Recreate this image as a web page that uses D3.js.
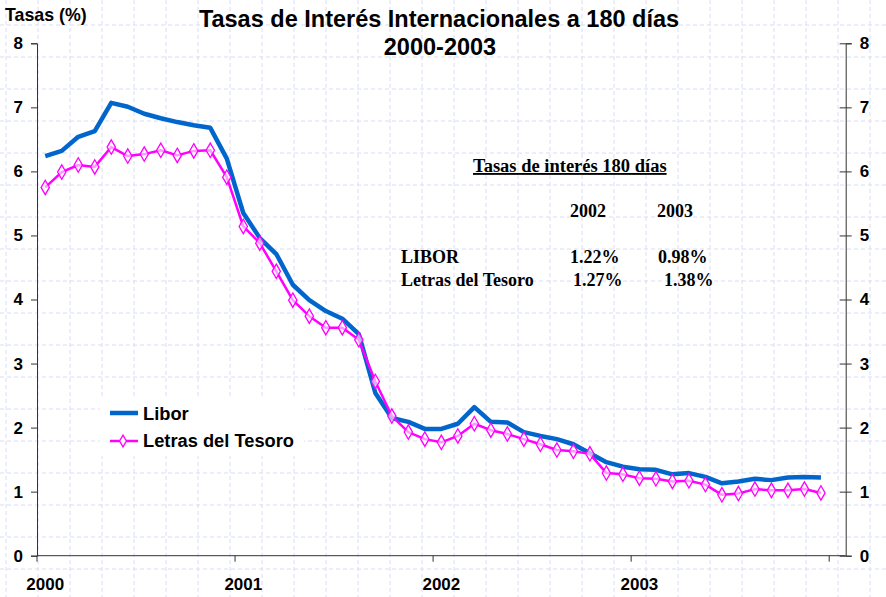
<!DOCTYPE html>
<html>
<head>
<meta charset="utf-8">
<script src="https://cdn.jsdelivr.net/npm/d3@7"></script>
<style>
html,body{margin:0;padding:0;background:#fff;}
svg{display:block;}
</style>
</head>
<body>
<svg id="chart" width="886" height="597" font-family="Liberation Sans, Arial, sans-serif"></svg>
<script>
// ---- Data ----
const years = ["2000", "2001", "2002", "2003"];
const monthsPerYear = 12;
const libor = [6.24, 6.32, 6.54, 6.63, 7.07, 7.01, 6.90, 6.83, 6.77, 6.72, 6.68, 6.20,
               5.35, 4.96, 4.71, 4.23, 3.99, 3.82, 3.70, 3.46, 2.54, 2.15, 2.09, 1.98,
               1.98, 2.06, 2.32, 2.09, 2.08, 1.93, 1.87, 1.82, 1.74, 1.60, 1.46, 1.39,
               1.35, 1.34, 1.27, 1.29, 1.23, 1.13, 1.16, 1.20, 1.18, 1.22, 1.23, 1.22];
const letras = [5.75, 5.99, 6.10, 6.07, 6.38, 6.24, 6.27, 6.33, 6.25, 6.32, 6.33, 5.91,
                5.14, 4.88, 4.44, 3.99, 3.74, 3.56, 3.56, 3.37, 2.72, 2.18, 1.93, 1.82,
                1.77, 1.87, 2.06, 1.96, 1.90, 1.82, 1.74, 1.65, 1.63, 1.59, 1.29, 1.27,
                1.21, 1.20, 1.16, 1.17, 1.11, 0.95, 0.97, 1.04, 1.02, 1.02, 1.04, 0.98];
const yTicks = [0, 1, 2, 3, 4, 5, 6, 7, 8];
const seriesNames = ["Libor", "Letras del Tesoro"];
const tableTitle = "Tasas de interés 180 días";
const tableYears = ["2002", "2003"];
const tableRows = ["LIBOR", "Letras del Tesoro"];
const tableValues = [["1.22%", "0.98%"], ["1.27%", "1.38%"]];

// categories: one per month, plus one empty trailing slot
const categories = [];
years.forEach(yy => { for (let m = 1; m <= monthsPerYear; m++) categories.push(yy + "-" + m); });
const slots = categories.concat(["_"]);

const svg = d3.select("#chart");
const W = 886, H = 597;
const pL = 37, pR = 845.7, pT = 43.3, pB = 555.7;

// ---- background dashed grid ----
const grid = svg.append("g");
for (let gx = 6; gx < W; gx += 32) {
  grid.append("line").attr("x1", gx).attr("x2", gx).attr("y1", 0).attr("y2", H)
    .attr("stroke", "#d9dcf6").attr("stroke-width", 1).attr("stroke-dasharray", "4,3");
}
for (let gy = 25; gy < H; gy += 32) {
  grid.append("line").attr("x1", 0).attr("x2", W).attr("y1", gy).attr("y2", gy)
    .attr("stroke", "#d9dcf6").attr("stroke-width", 1).attr("stroke-dasharray", "4,3");
}

// ---- scales ----
const x = d3.scaleBand().domain(slots).range([pL, pR]).padding(0);
const y = d3.scaleLinear().domain([0, 8]).range([pB, pT]);
const cx = c => x(c) + x.bandwidth() / 2;

// ---- axes ----
const axisColor = "#333";
const yl = svg.append("g").attr("transform", `translate(${pL},0)`)
  .call(d3.axisLeft(y).tickValues(yTicks).tickSize(6).tickPadding(8).tickFormat(d3.format("d")));
yl.attr("font-family", null).attr("font-size", null);
yl.select(".domain").attr("stroke", axisColor);
yl.selectAll(".tick line").attr("stroke", axisColor);
yl.selectAll("text").attr("font-size", 17).attr("font-weight", "bold").attr("fill", "#000");

const yr = svg.append("g").attr("transform", `translate(${pR},0)`)
  .call(d3.axisRight(y).tickValues(yTicks).tickSize(6).tickPadding(8).tickFormat(d3.format("d")));
yr.attr("font-family", null).attr("font-size", null);
yr.select(".domain").attr("stroke", axisColor);
yr.selectAll(".tick line").attr("stroke", axisColor).attr("x1", -6);
yr.selectAll("text").attr("font-size", 17).attr("font-weight", "bold").attr("fill", "#000");

svg.append("line").attr("x1", pL).attr("x2", pR).attr("y1", pB).attr("y2", pB)
  .attr("stroke", axisColor).attr("stroke-width", 1);
const tickCats = slots.filter((d, i) => i % monthsPerYear === 0);
svg.append("g").selectAll("line").data(tickCats).join("line")
  .attr("x1", d => x(d)).attr("x2", d => x(d))
  .attr("y1", pB).attr("y2", pB + 6)
  .attr("stroke", axisColor);
svg.append("g").selectAll("text").data(years).join("text")
  .attr("x", (d, i) => cx(categories[i * monthsPerYear]))
  .attr("y", 590)
  .attr("text-anchor", "middle")
  .attr("font-size", 17).attr("font-weight", "bold")
  .text(d => d);

// ---- lines ----
const line = d3.line().x((d, i) => cx(categories[i])).y(d => y(d));
svg.append("path").datum(libor).attr("d", line)
  .attr("fill", "none").attr("stroke", "#0066CC").attr("stroke-width", 4.5)
  .attr("stroke-linejoin", "round");
svg.append("path").datum(letras).attr("d", line)
  .attr("fill", "none").attr("stroke", "#FF00FF").attr("stroke-width", 2.5)
  .attr("stroke-linejoin", "round");
const diamond = d3.symbol().type(d3.symbolDiamond).size(60);
svg.append("g").selectAll("path").data(letras).join("path")
  .attr("d", diamond)
  .attr("transform", (d, i) => `translate(${cx(categories[i])},${y(d)})`)
  .attr("fill", "#fff").attr("fill-opacity", 0.6).attr("stroke", "#FF00FF").attr("stroke-width", 1.3);

// ---- legend ----
const lg = svg.append("g");
lg.append("rect").attr("x", 100).attr("y", 398).attr("width", 204).attr("height", 58).attr("fill", "#fff");
lg.append("line").attr("x1", 110).attr("x2", 138).attr("y1", 413).attr("y2", 413)
  .attr("stroke", "#0066CC").attr("stroke-width", 4.5);
lg.append("line").attr("x1", 110).attr("x2", 138).attr("y1", 441).attr("y2", 441)
  .attr("stroke", "#FF00FF").attr("stroke-width", 2.5);
lg.append("path").attr("d", d3.symbol().type(d3.symbolDiamond).size(40))
  .attr("transform", "translate(123,441)")
  .attr("fill", "#fff").attr("stroke", "#FF00FF").attr("stroke-width", 1.3);
lg.selectAll("text").data(seriesNames).join("text")
  .attr("x", 143).attr("y", (d, i) => 420 + i * 27)
  .attr("font-size", 18.3).attr("font-weight", "bold").text(d => d);

// ---- titles ----
svg.append("text").attr("x", 439).attr("y", 27).attr("text-anchor", "middle")
  .attr("font-size", 23.5).attr("font-weight", "bold")
  .text("Tasas de Interés Internacionales a 180 días");
svg.append("text").attr("x", 440).attr("y", 55).attr("text-anchor", "middle")
  .attr("font-size", 23.5).attr("font-weight", "bold")
  .text("2000-2003");
svg.append("text").attr("x", 5).attr("y", 21)
  .attr("font-size", 17.8).attr("font-weight", "bold")
  .text("Tasas (%)");

// ---- text box (table) ----
const tf = "Liberation Serif, Times New Roman, serif";
const tb = svg.append("g").attr("font-family", tf).attr("font-weight", "bold").attr("font-size", 18);
tb.append("text").attr("x", 473).attr("y", 172).attr("font-size", 18.5)
  .attr("text-decoration", "underline").text(tableTitle);
tb.selectAll(".yr").data(tableYears).join("text").attr("class", "yr")
  .attr("x", (d, i) => [570, 657][i]).attr("y", 217).text(d => d);
tb.selectAll(".rw").data(tableRows).join("text").attr("class", "rw")
  .attr("x", 401).attr("y", (d, i) => [263, 285.5][i]).text(d => d);
tableValues.forEach((row, r) => {
  row.forEach((v, c) => {
    tb.append("text")
      .attr("x", [[570, 658], [573, 664]][r][c]).attr("y", [263, 285.5][r]).text(v);
  });
});
</script>
</body>
</html>
